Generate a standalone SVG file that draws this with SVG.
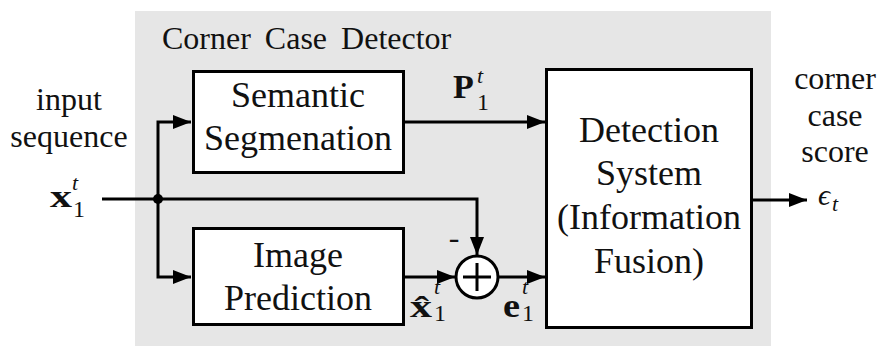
<svg xmlns="http://www.w3.org/2000/svg" width="881" height="346" viewBox="0 0 881 346" font-family="'Liberation Serif', 'Times New Roman', Tinos, 'DejaVu Serif', serif">
  <defs>
    <marker id="arrow" markerUnits="userSpaceOnUse" markerWidth="18" markerHeight="14" refX="18" refY="7" orient="auto">
      <path d="M0,0 L18,7 L0,14 Z" fill="#000"/>
    </marker>
    <style>
      svg text { font-family: 'Liberation Serif', 'Times New Roman', Tinos, 'DejaVu Serif', serif; fill: #111; }
      .box { fill: #fff; stroke: #000; stroke-width: 3; }
      .lbl { font-size: 36px; text-anchor: middle; }
      .side { font-size: 32px; text-anchor: middle; }
      .wire { fill: none; stroke: #000; stroke-width: 3; }
      .arr { marker-end: url(#arrow); }
      .bf { font-weight: bold; }
      .it { font-style: italic; }
      .sup { font-size: 22px; font-style: italic; font-weight: normal; }
      .sub { font-size: 24px; font-style: normal; font-weight: normal; }
    </style>
  </defs>

  <rect id="background" width="881" height="346" fill="#fff"/>

  <!-- enclosing detector region -->
  <g id="detector">
    <rect x="135" y="11" width="636" height="335" fill="#e6e6e6"/>
    <text x="162" y="49" font-size="32" word-spacing="6">Corner Case Detector</text>
  </g>

  <g id="semantic-segmentation">
    <rect class="box" x="193.5" y="71.5" width="210" height="101"/>
    <text class="lbl" x="298" y="107">Semantic</text>
    <text class="lbl" x="298" y="150">Segmenation</text>
  </g>

  <g id="image-prediction">
    <rect class="box" x="193.5" y="228.5" width="210" height="96"/>
    <text class="lbl" x="298" y="267">Image</text>
    <text class="lbl" x="298" y="310">Prediction</text>
  </g>

  <g id="detection-system">
    <rect class="box" x="546.5" y="69.5" width="205" height="258"/>
    <text class="lbl" x="649" y="142">Detection</text>
    <text class="lbl" x="649" y="185">System</text>
    <text class="lbl" x="649" y="229">(Information</text>
    <text class="lbl" x="649" y="273">Fusion)</text>
  </g>

  <g id="connectors">
    <path class="wire arr" d="M102,199 H477 V255"/>
    <path class="wire arr" d="M158,199 V122 H191"/>
    <path class="wire arr" d="M158,199 V277 H191"/>
    <path class="wire arr" d="M405,122 H545"/>
    <path class="wire arr" d="M405,277 H455"/>
    <path class="wire arr" d="M499,277 H545"/>
    <path class="wire arr" d="M753,200 H807"/>
    <circle cx="158" cy="199" r="5" fill="#000"/>
  </g>

  <g id="subtractor">
    <circle cx="477" cy="277" r="21" fill="#fff" stroke="#000" stroke-width="3"/>
    <path d="M463,277 H491 M477,263 V291" stroke="#000" stroke-width="3" fill="none"/>
    <text x="454" y="248" font-size="32" text-anchor="middle">-</text>
  </g>

  <!-- input label and signal -->
  <g id="input-label">
    <text class="side" x="69" y="110">input</text>
    <text class="side" x="69" y="147">sequence</text>
    <text x="50" y="207"><tspan class="bf" font-size="32" textLength="22" lengthAdjust="spacingAndGlyphs">x</tspan><tspan class="sup" x="72" y="190">t</tspan><tspan class="sub" x="73" y="217">1</tspan></text>
  </g>

  <!-- segmentation output -->
  <g id="label-p">
    <text x="453" y="98"><tspan class="bf" font-size="34">P</tspan><tspan class="sup" x="477" y="83">t</tspan><tspan class="sub" x="477" y="110">1</tspan></text>
  </g>

  <!-- predicted frame -->
  <g id="label-xhat">
    <text x="410" y="317"><tspan class="bf" font-size="32" textLength="22" lengthAdjust="spacingAndGlyphs">x&#x302;</tspan><tspan class="sup" x="434" y="294">t</tspan><tspan class="sub" x="434" y="321">1</tspan></text>
  </g>

  <!-- prediction error -->
  <g id="label-e">
    <text x="503" y="317"><tspan class="bf" font-size="34" textLength="17" lengthAdjust="spacingAndGlyphs">e</tspan><tspan class="sup" x="522" y="294">t</tspan><tspan class="sub" x="522" y="321">1</tspan></text>
  </g>

  <g id="output-label">
    <text class="side" x="835" y="89">corner</text>
    <text class="side" x="835" y="126">case</text>
    <text class="side" x="835" y="162">score</text>
    <text x="818" y="205"><tspan class="it" font-size="30">ϵ</tspan><tspan class="sup" x="832" y="211">t</tspan></text>
  </g>
</svg>
